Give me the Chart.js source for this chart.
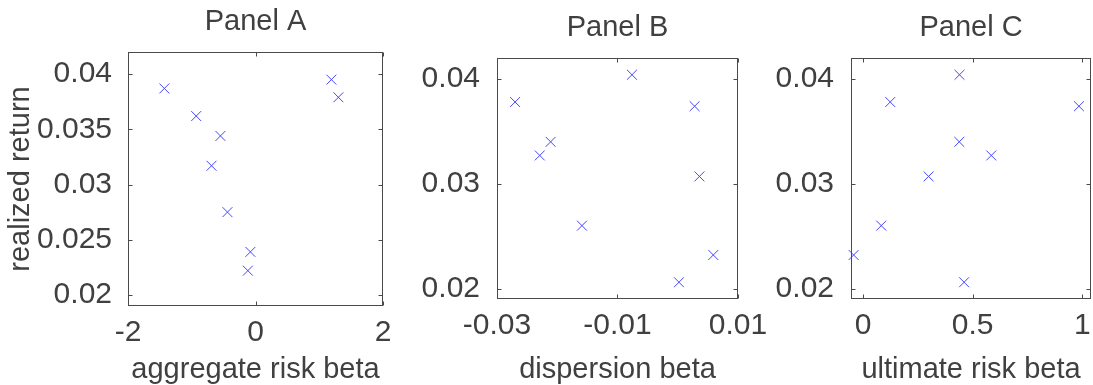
<!DOCTYPE html>
<html>
<head>
<meta charset="utf-8">
<script src="https://cdn.jsdelivr.net/npm/chart.js@4/dist/chart.umd.min.js"></script>
<style>
  html, body { margin: 0; padding: 0; background: #fff; }
  #wrap { position: relative; width: 1093px; height: 385px; overflow: hidden; }
  canvas { position: absolute; top: 0; }
</style>
</head>
<body>
<div id="wrap">
  <canvas id="panelA" width="400" height="385" style="left:0px"></canvas>
  <canvas id="panelB" width="400" height="385" style="left:400px"></canvas>
  <canvas id="panelC" width="353" height="385" style="left:760px"></canvas>
</div>
<script>
// realized return, shared by the three panels
const returnsA = [0.0387, 0.0362, 0.0344, 0.0317, 0.0275, 0.0239, 0.0222, 0.0395, 0.0379];
const aggregateBeta = [-1.43, -0.93, -0.55, -0.69, -0.44, -0.08, -0.12, 1.19, 1.30];

const returnsBC = [0.0378, 0.0327, 0.0340, 0.0260, 0.0404, 0.0374, 0.0307, 0.0206, 0.0232];
const dispersionBeta = [-0.0270, -0.0229, -0.0211, -0.0159, -0.0076, 0.0028, 0.0036, 0.0002, 0.0059];
const ultimateBeta = [0.124, 0.585, 0.439, 0.083, 0.440, 0.985, 0.299, 0.461, -0.043];

const yTicksA = [0.02, 0.025, 0.03, 0.035, 0.04];
const yTicksBC = [0.02, 0.03, 0.04];
const xTicksA = [-2, 0, 2];
const xTicksB = [-0.03, -0.01, 0.01];
const xTicksC = [0, 0.5, 1];

const FONT = "'Liberation Sans', Arial, Helvetica, sans-serif";
const TEXT = "#404040";

const $ = (id) => document.getElementById(id);

// MATLAB style box with short inward ticks on all four sides
const boxPlugin = {
  id: "matlabBox",
  afterDraw(chart) {
    const { ctx, chartArea: a, scales } = chart;
    const l = Math.round(a.left) + 0.5, r = Math.round(a.right) - 0.5;
    const t = Math.round(a.top) + 0.5, b = Math.round(a.bottom) - 0.5;
    const tl = 4;
    ctx.save();
    ctx.strokeStyle = "#4a4a4a";
    ctx.lineWidth = 1;
    ctx.strokeRect(l, t, r - l, b - t);
    ctx.beginPath();
    scales.x.ticks.forEach((tk) => {
      const px = Math.round(scales.x.getPixelForValue(tk.value)) + 0.5;
      ctx.moveTo(px, b); ctx.lineTo(px, b - tl);
      ctx.moveTo(px, t); ctx.lineTo(px, t + tl);
    });
    scales.y.ticks.forEach((tk) => {
      const py = Math.round(scales.y.getPixelForValue(tk.value)) + 0.5;
      ctx.moveTo(l, py); ctx.lineTo(l + tl, py);
      ctx.moveTo(r, py); ctx.lineTo(r - tl, py);
    });
    ctx.stroke();
    ctx.restore();
  },
};

function makePanel(cfg) {
  const points = cfg.xs.map((x, i) => ({ x, y: cfg.ys[i] }));
  return new Chart($(cfg.id).getContext("2d"), {
    type: "scatter",
    data: {
      datasets: [{
        data: points,
        pointStyle: "crossRot",
        pointRadius: 7,
        pointHoverRadius: 7,
        pointBorderWidth: 1,
        borderColor: "#4646ff",
        backgroundColor: "#4646ff",
        clip: false,
      }],
    },
    options: {
      responsive: false,
      devicePixelRatio: 1,
      animation: false,
      events: [],
      layout: { padding: { left: 0, right: cfg.padRight, top: 0, bottom: 0 } },
      plugins: {
        legend: { display: false },
        tooltip: { enabled: false },
        title: {
          display: true,
          text: cfg.title,
          fullSize: false,
          color: TEXT,
          font: { family: FONT, size: 29, weight: "normal", lineHeight: 1 },
          padding: { top: cfg.titleTop, bottom: 16 },
        },
      },
      scales: {
        x: {
          type: "linear",
          min: cfg.xMin,
          max: cfg.xMax,
          afterBuildTicks: (s) => { s.ticks = cfg.xTicks.map((v) => ({ value: v })); },
          afterFit: (s) => { s.height = 385 - cfg.bottom; },
          grid: { display: false },
          border: { display: false },
          ticks: {
            color: TEXT,
            font: { family: FONT, size: 30 },
            padding: 1,
            autoSkip: false,
            maxRotation: 0,
            callback: (v) => String(v),
          },
          title: {
            display: true,
            text: cfg.xLabel,
            color: TEXT,
            font: { family: FONT, size: 29, lineHeight: 1 },
            padding: { top: 0, bottom: 1 },
          },
        },
        y: {
          type: "linear",
          min: 0.019,
          max: 0.042,
          afterBuildTicks: (s) => { s.ticks = cfg.yTicks.map((v) => ({ value: v })); },
          afterFit: (s) => { s.width = cfg.left; },
          grid: { display: false },
          border: { display: false },
          ticks: {
            color: TEXT,
            font: { family: FONT, size: 30 },
            padding: cfg.tickGap,
            autoSkip: false,
            callback: (v) => String(v),
          },
          title: {
            display: !!cfg.yLabel,
            text: cfg.yLabel || "",
            color: TEXT,
            font: { family: FONT, size: 29, lineHeight: 1 },
            padding: { top: 6, bottom: 0 },
          },
        },
      },
    },
    plugins: [boxPlugin],
  });
}

makePanel({
  id: "panelA", title: "Panel A", titleTop: 7, left: 128, padRight: 17, bottom: 306, tickGap: 8,
  xs: aggregateBeta, ys: returnsA, xMin: -2, xMax: 2,
  xTicks: xTicksA, yTicks: yTicksA,
  xLabel: "aggregate risk beta", yLabel: "realized return",
});

makePanel({
  id: "panelB", title: "Panel B", titleTop: 13, left: 97, padRight: 62, bottom: 299, tickGap: 9,
  xs: dispersionBeta, ys: returnsBC, xMin: -0.03, xMax: 0.01,
  xTicks: xTicksB, yTicks: yTicksBC,
  xLabel: "dispersion beta",
});

makePanel({
  id: "panelC", title: "Panel C", titleTop: 13, left: 91, padRight: 22, bottom: 299, tickGap: 9,
  xs: ultimateBeta, ys: returnsBC, xMin: -0.055, xMax: 1.04,
  xTicks: xTicksC, yTicks: yTicksBC,
  xLabel: "ultimate risk beta",
});
</script>
</body>
</html>
